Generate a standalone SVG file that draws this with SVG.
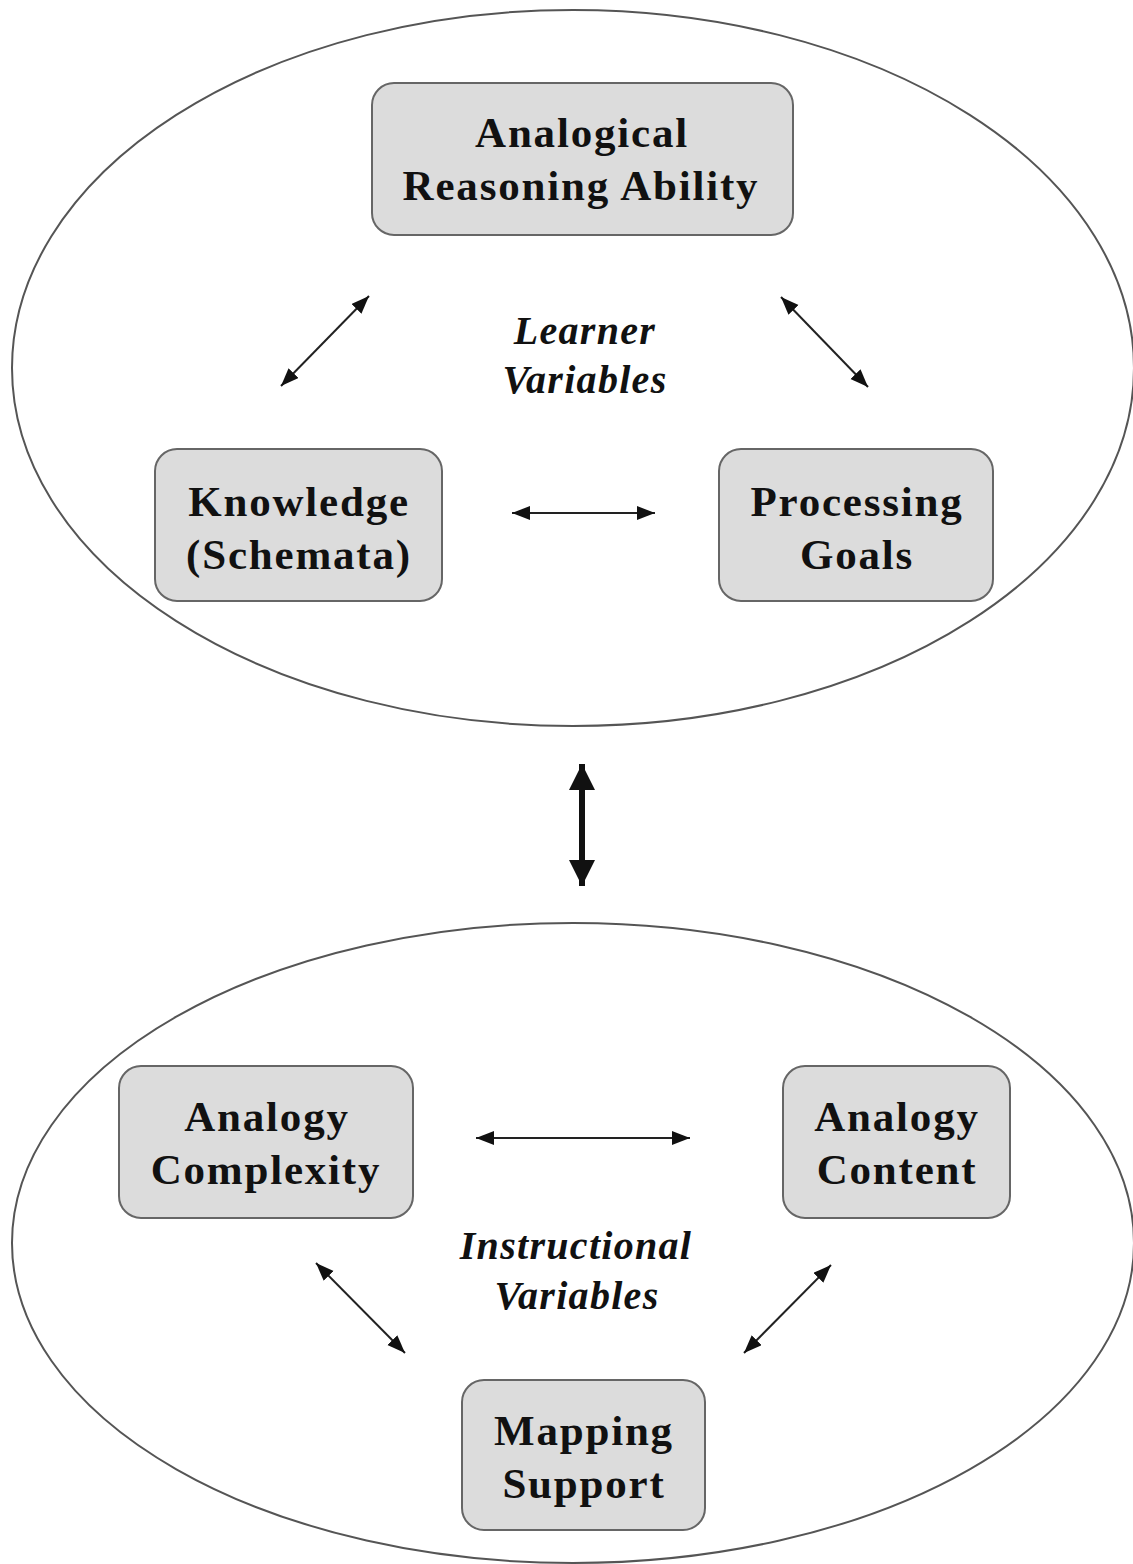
<svg xmlns="http://www.w3.org/2000/svg" width="1133" height="1564" viewBox="0 0 1133 1564">
  <defs>
    <style>
      .ell { fill: none; stroke: #555; stroke-width: 2; }
      .box { fill: #dcdcdc; stroke: #666; stroke-width: 2; }
      .lbl { font-family: "Liberation Serif", "Times New Roman", serif; font-weight: bold; font-size: 43px; letter-spacing: 1.8px; fill: #111; text-anchor: middle; }
      .var { font-family: "Liberation Serif", "Times New Roman", serif; font-weight: bold; font-style: italic; font-size: 40px; letter-spacing: 1.3px; fill: #111; text-anchor: middle; }
      .con { stroke: #222; stroke-width: 2; fill: none; marker-start: url(#ah); marker-end: url(#ah); }
      .big { stroke: #111; stroke-width: 6; fill: none; marker-start: url(#ahb); marker-end: url(#ahb); }
    </style>
    <marker id="ah" markerUnits="userSpaceOnUse" markerWidth="20" markerHeight="16" refX="18" refY="7" orient="auto-start-reverse" viewBox="0 0 20 16">
      <path d="M0,0 L18,7 L0,14 z" fill="#111"/>
    </marker>
    <marker id="ahb" markerUnits="userSpaceOnUse" markerWidth="30" markerHeight="28" refX="26" refY="13" orient="auto-start-reverse" viewBox="0 0 30 28">
      <path d="M0,0 L26,13 L0,26 z" fill="#111"/>
    </marker>
  </defs>
  <rect width="1133" height="1564" fill="#fff"/>

  <g id="learner-ellipse">
    <ellipse class="ell" cx="573" cy="368" rx="561" ry="358"/>
    <text class="var" x="585" y="344">Learner</text>
    <text class="var" x="585" y="393">Variables</text>
  </g>
  <g id="instructional-ellipse">
    <ellipse class="ell" cx="573" cy="1243" rx="561" ry="320"/>
    <text class="var" x="576" y="1259">Instructional</text>
    <text class="var" x="577" y="1309">Variables</text>
  </g>

  <g id="connectors">
    <line class="con" x1="281" y1="386" x2="369" y2="296"/>
    <line class="con" x1="781" y1="297" x2="868" y2="387"/>
    <line class="con" x1="512" y1="513" x2="655" y2="513"/>
    <line class="big" x1="582" y1="764" x2="582" y2="886"/>
    <line class="con" x1="476" y1="1138" x2="690" y2="1138"/>
    <line class="con" x1="316" y1="1263" x2="405" y2="1353"/>
    <line class="con" x1="831" y1="1265" x2="744" y2="1353"/>
  </g>

  <g id="analogical-reasoning-ability">
    <rect class="box" x="372" y="83" width="421" height="152" rx="22"/>
    <text class="lbl" x="582" y="147">Analogical</text>
    <text class="lbl" x="581" y="200">Reasoning Ability</text>
  </g>
  <g id="knowledge">
    <rect class="box" x="155" y="449" width="287" height="152" rx="22"/>
    <text class="lbl" x="299" y="516">Knowledge</text>
    <text class="lbl" x="299" y="569">(Schemata)</text>
  </g>
  <g id="processing-goals">
    <rect class="box" x="719" y="449" width="274" height="152" rx="22"/>
    <text class="lbl" x="857" y="516">Processing</text>
    <text class="lbl" x="857" y="569">Goals</text>
  </g>
  <g id="analogy-complexity">
    <rect class="box" x="119" y="1066" width="294" height="152" rx="22"/>
    <text class="lbl" x="267" y="1131">Analogy</text>
    <text class="lbl" x="266" y="1184">Complexity</text>
  </g>
  <g id="analogy-content">
    <rect class="box" x="783" y="1066" width="227" height="152" rx="22"/>
    <text class="lbl" x="897" y="1131">Analogy</text>
    <text class="lbl" x="897" y="1184">Content</text>
  </g>
  <g id="mapping-support">
    <rect class="box" x="462" y="1380" width="243" height="150" rx="22"/>
    <text class="lbl" x="584" y="1445">Mapping</text>
    <text class="lbl" x="584" y="1498">Support</text>
  </g>
</svg>
